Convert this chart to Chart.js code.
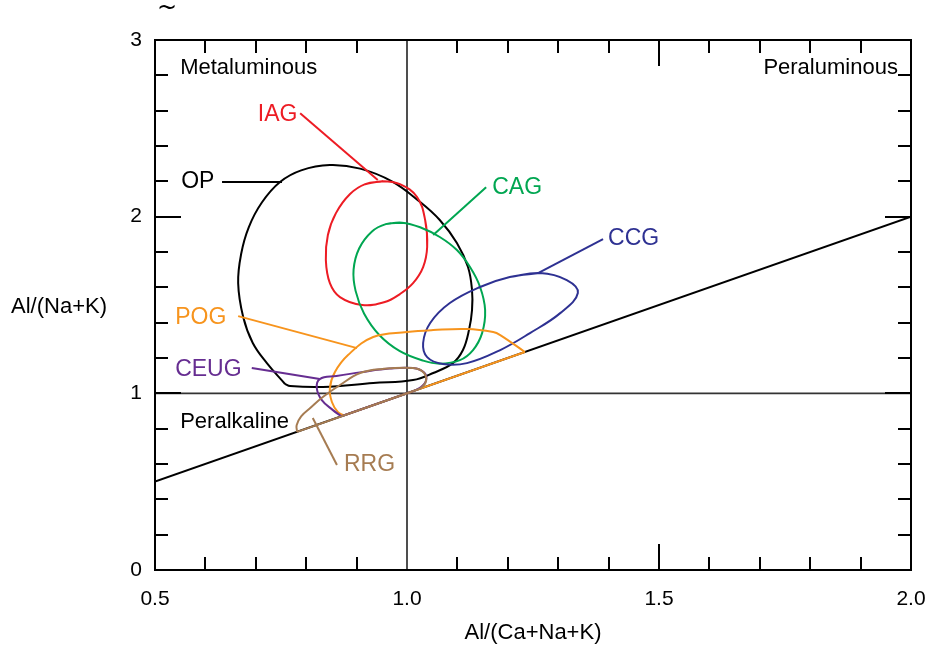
<!DOCTYPE html>
<html>
<head>
<meta charset="utf-8">
<script src="https://cdn.jsdelivr.net/npm/chart.js@4.4.1/dist/chart.umd.min.js"></script>
<style>
  html, body { margin: 0; padding: 0; background: #fff; }
  #contenedor { width: 931px; height: 648px; }
</style>
</head>
<body>
<div id="contenedor"><canvas id="grafica"></canvas></div>
<script>
// ejes
const xTickLabels = [0.5, 1.0, 1.5, 2.0];
const yTickLabels = [0, 1, 2, 3];
const xMinorTicks = [0.6, 0.7, 0.8, 0.9, 1.1, 1.2, 1.3, 1.4, 1.6, 1.7, 1.8, 1.9];
const xMajorTicks = [1.5];
const yMinorTicks = [0.2, 0.4, 0.6, 0.8, 1.2, 1.4, 1.6, 1.8, 2.2, 2.4, 2.6, 2.8];
const yMajorTicks = [1, 2];

// lineas de referencia
const lineaDiagonal = [{ x: 0.5, y: 0.5 }, { x: 2.0, y: 2.0 }];
const lineaVertical = [{ x: 1.0, y: 0 }, { x: 1.0, y: 3 }];
const lineaHorizontal = [{ x: 0.5, y: 1.0 }, { x: 2.0, y: 1.0 }];

// campos (contornos)
const campoOP = [
  [0.758, 1.053], [0.722, 1.171], [0.694, 1.285], [0.675, 1.432], [0.665, 1.624],
  [0.671, 1.790], [0.686, 1.940], [0.712, 2.080], [0.748, 2.196], [0.790, 2.262],
  [0.847, 2.292], [0.907, 2.272], [0.970, 2.200], [1.026, 2.083], [1.065, 1.981],
  [1.099, 1.851], [1.121, 1.715], [1.129, 1.585], [1.129, 1.471], [1.123, 1.358],
  [1.111, 1.245], [1.091, 1.171], [1.052, 1.115], [1.012, 1.075], [0.933, 1.058],
  [0.833, 1.036], [0.768, 1.041], [0.758, 1.053]
];
const campoIAG = [
  [0.952, 2.201], [0.986, 2.184], [1.020, 2.111], [1.036, 1.981], [1.040, 1.828],
  [1.032, 1.715], [1.012, 1.624], [0.986, 1.562], [0.956, 1.517], [0.911, 1.500],
  [0.867, 1.545], [0.847, 1.624], [0.839, 1.754], [0.843, 1.896], [0.859, 2.020],
  [0.887, 2.128], [0.917, 2.184]
];
const campoCAG = [
  [0.990, 1.966], [1.026, 1.940], [1.065, 1.885], [1.099, 1.811], [1.125, 1.715],
  [1.145, 1.602], [1.155, 1.471], [1.149, 1.341], [1.131, 1.245], [1.105, 1.188],
  [1.065, 1.168], [1.032, 1.185], [0.985, 1.240], [0.945, 1.330], [0.915, 1.450],
  [0.898, 1.580], [0.894, 1.700], [0.905, 1.820], [0.930, 1.915], [0.958, 1.958]
];
const campoCCG = [
  [1.264, 1.681], [1.317, 1.641], [1.339, 1.568], [1.304, 1.454], [1.244, 1.341],
  [1.185, 1.245], [1.119, 1.171], [1.071, 1.166], [1.040, 1.205], [1.032, 1.285],
  [1.046, 1.398], [1.085, 1.511], [1.145, 1.602], [1.204, 1.658]
];
const campoPOG = [
  [0.875, 0.875], [0.863, 0.894], [0.851, 0.951], [0.847, 1.030], [0.857, 1.121],
  [0.883, 1.217], [0.933, 1.319], [1.000, 1.347], [1.052, 1.358], [1.119, 1.364],
  [1.171, 1.347], [1.185, 1.330], [1.234, 1.234]
];
const basePOG = [[1.234, 1.234], [0.875, 0.875]];
const campoCEUG = [
  [0.870, 0.870], [0.853, 0.905], [0.831, 0.962], [0.821, 1.030], [0.827, 1.081],
  [0.860, 1.098], [0.910, 1.120], [0.965, 1.140], [1.012, 1.143], [1.034, 1.118],
  [1.038, 1.075], [1.028, 1.036], [1.012, 1.012]
];
const baseCEUG = [[1.012, 1.012], [0.870, 0.870]];
const campoRRG = [
  [0.782, 0.782], [0.781, 0.820], [0.790, 0.870], [0.808, 0.917], [0.833, 0.979],
  [0.867, 1.047], [0.907, 1.115], [0.952, 1.138], [1.012, 1.143], [1.032, 1.121],
  [1.038, 1.075], [1.030, 1.036], [1.012, 1.012]
];
const baseRRG = [[1.012, 1.012], [0.782, 0.782]];

// lineas guia de las etiquetas
const guiaOP = [[0.633, 2.196], [0.752, 2.196]];
const guiaIAG = [[0.788, 2.586], [0.942, 2.207]];
const guiaCAG = [[1.052, 1.896], [1.157, 2.167]];
const guiaCCG = [[1.260, 1.681], [1.389, 1.873]];
const guiaPOG = [[0.665, 1.437], [0.901, 1.256]];
const guiaCEUG = [[0.692, 1.143], [0.827, 1.081]];
const guiaRRG = [[0.813, 0.860], [0.861, 0.594]];

const colores = {
  OP: "#000000", IAG: "#ed1c24", CAG: "#00a651", CCG: "#2e3192",
  POG: "#f7941d", CEUG: "#662d91", RRG: "#a67c52"
};

// textos: [texto, x, y, alineacion, color, tamaño]
const anotaciones = [
  ["Metaluminous", 0.550, 2.841, "left", "#000", 22],
  ["Peraluminous", 1.974, 2.841, "right", "#000", 22],
  ["Peralkaline", 0.550, 0.838, "left", "#000", 22],
  ["OP", 0.552, 2.196, "left", colores.OP, 23],
  ["IAG", 0.704, 2.575, "left", colores.IAG, 23],
  ["CAG", 1.169, 2.167, "left", colores.CAG, 23],
  ["CCG", 1.399, 1.873, "left", colores.CCG, 23],
  ["POG", 0.540, 1.426, "left", colores.POG, 23],
  ["CEUG", 0.540, 1.132, "left", colores.CEUG, 23],
  ["RRG", 0.875, 0.594, "left", colores.RRG, 23]
];

const fuente = "'Liberation Sans', Arial, Helvetica, sans-serif";

const aPuntos = (lista) => lista.map((p) => ({ x: p[0], y: p[1] }));
// repite extremos para que el contorno cerrado quede suave
const cerrar = (lista) => aPuntos([lista[lista.length - 1], ...lista, lista[0]]);

function serie(datos, color, ancho, tension) {
  return {
    data: datos,
    borderColor: color,
    borderWidth: ancho,
    tension: tension,
    showLine: true,
    fill: false,
    pointRadius: 0,
    pointHoverRadius: 0
  };
}

const datasets = [
  serie(aPuntos(campoRRG), colores.RRG, 2, 0.4),
  serie(aPuntos(baseRRG), colores.RRG, 2, 0),
  serie(aPuntos(guiaRRG), colores.RRG, 2, 0),
  serie(aPuntos(campoCEUG), colores.CEUG, 2, 0.4),
  serie(aPuntos(baseCEUG), colores.CEUG, 2, 0),
  serie(aPuntos(guiaCEUG), colores.CEUG, 2, 0),
  serie(aPuntos(campoPOG), colores.POG, 2, 0.4),
  serie(aPuntos(basePOG), colores.POG, 2, 0),
  serie(aPuntos(guiaPOG), colores.POG, 2, 0),
  serie(cerrar(campoCCG), colores.CCG, 2, 0.4),
  serie(aPuntos(guiaCCG), colores.CCG, 2, 0),
  serie(cerrar(campoCAG), colores.CAG, 2, 0.4),
  serie(aPuntos(guiaCAG), colores.CAG, 2, 0),
  serie(cerrar(campoIAG), colores.IAG, 2, 0.4),
  serie(aPuntos(guiaIAG), colores.IAG, 2, 0),
  serie(aPuntos(campoOP), colores.OP, 2, 0.4),
  serie(aPuntos(guiaOP), colores.OP, 2, 0),
  serie(lineaDiagonal, "#000", 2, 0),
  serie(lineaVertical, "#222", 1.6, 0),
  serie(lineaHorizontal, "#333", 1.6, 0)
];

//plugin que dibuja marco, marcas interiores y textos
const capaDibujo = {
  id: "capaDibujo",
  afterDraw(chart) {
    const ctx = chart.ctx;
    const area = chart.chartArea;
    const sx = chart.scales.x;
    const sy = chart.scales.y;
    ctx.save();
    ctx.strokeStyle = "#000";
    ctx.lineWidth = 2;
    ctx.strokeRect(area.left, area.top, area.right - area.left, area.bottom - area.top);

    ctx.lineWidth = 2;
    ctx.beginPath();
    const marcasX = (vals, largo) => {
      vals.forEach((v) => {
        const px = Math.round(sx.getPixelForValue(v));
        ctx.moveTo(px, area.bottom);
        ctx.lineTo(px, area.bottom - largo);
        ctx.moveTo(px, area.top);
        ctx.lineTo(px, area.top + largo);
      });
    };
    const marcasY = (vals, largo) => {
      vals.forEach((v) => {
        const py = Math.round(sy.getPixelForValue(v));
        ctx.moveTo(area.left, py);
        ctx.lineTo(area.left + largo, py);
        ctx.moveTo(area.right, py);
        ctx.lineTo(area.right - largo, py);
      });
    };
    marcasX(xMinorTicks, 13);
    marcasX(xMajorTicks, 26);
    marcasY(yMinorTicks, 13);
    marcasY(yMajorTicks, 26);
    ctx.stroke();

    ctx.textBaseline = "middle";
    anotaciones.forEach((a) => {
      ctx.font = a[5] + "px " + fuente;
      ctx.fillStyle = a[4];
      ctx.textAlign = a[3];
      ctx.fillText(a[0], sx.getPixelForValue(a[1]), sy.getPixelForValue(a[2]));
    });

    // titulos de los ejes
    ctx.fillStyle = "#000";
    ctx.font = "22px " + fuente;
    ctx.textAlign = "center";
    ctx.fillText("Al/(Ca+Na+K)", (area.left + area.right) / 2, area.bottom + 63);
    ctx.fillText("Al/(Na+K)", 59, (area.top + area.bottom) / 2 + 2);

    ctx.font = "24px 'DejaVu Sans', sans-serif";
    ctx.fillText("~", area.left + 12, area.top - 31);
    ctx.restore();
  }
};

const config = {
  type: "scatter",
  data: { datasets },
  options: {
    responsive: true,
    maintainAspectRatio: false,
    animation: false,
    events: [],
    layout: { padding: { top: 40, right: 20, left: 0, bottom: 0 } },
    plugins: {
      legend: { display: false },
      tooltip: { enabled: false }
    },
    scales: {
      x: {
        type: "linear",
        min: 0.5,
        max: 2.0,
        afterBuildTicks: (s) => { s.ticks = xTickLabels.map((v) => ({ value: v })); },
        afterFit: (s) => { s.height = 78; s.paddingLeft = 0; s.paddingRight = 0; },
        grid: { display: false, drawTicks: false },
        border: { display: false },
        ticks: {
          padding: 17,
          color: "#000",
          font: { family: fuente, size: 21 },
          maxRotation: 0,
          callback: (v) => Number(v).toFixed(1)
        }
      },
      y: {
        type: "linear",
        min: 0,
        max: 3,
        afterBuildTicks: (s) => { s.ticks = yTickLabels.map((v) => ({ value: v })); },
        afterFit: (s) => { s.width = 155; s.paddingTop = 0; s.paddingBottom = 0; },
        grid: { display: false, drawTicks: false },
        border: { display: false },
        ticks: {
          padding: 13,
          color: "#000",
          font: { family: fuente, size: 21 },
          callback: (v) => String(v)
        }
      }
    }
  },
  plugins: [capaDibujo]
};

const grafica = new Chart(document.getElementById("grafica"), config);
</script>
</body>
</html>
